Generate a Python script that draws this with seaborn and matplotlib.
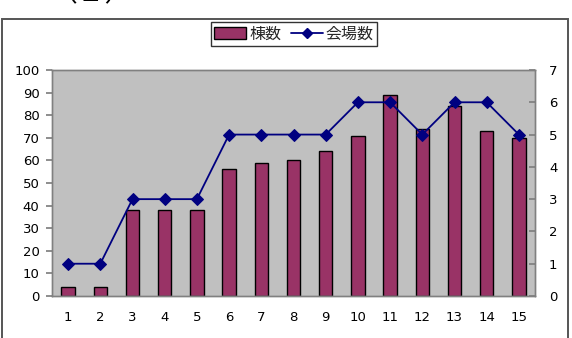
import numpy as np
import pandas as pd
import matplotlib
matplotlib.use("Agg")
import matplotlib.pyplot as plt
from matplotlib.patches import Rectangle, Patch
from matplotlib.lines import Line2D
from matplotlib.ticker import MultipleLocator, FixedLocator
import seaborn as sns

categories = [str(i) for i in range(1, 16)]
buildings = [4, 4, 38, 38, 38, 56, 59, 60, 64, 71, 89, 74, 84, 73, 70]
venues = [1, 1, 3, 3, 3, 5, 5, 5, 5, 6, 6, 5, 6, 6, 5]
bar_label = "棟数"
line_label = "会場数"

sns.set_theme(style="white")
plt.rcParams['font.family'] = ['Noto Sans CJK JP', 'DejaVu Sans']

W, H = 572, 338
fig = plt.figure(figsize=(W / 100, H / 100), dpi=100)
fig.patch.set_facecolor("white")

# outer chart frame
fig.patches.append(Rectangle((2 / W, -0.05), 566 / W, (H - 19) / H + 0.05,
                             transform=fig.transFigure, fill=False,
                             edgecolor="#555555", lw=1.4))
# cut-off title fragment at top
fig.text(50 / W, 1 - 1 / H, "（２）", fontsize=20, va="baseline", ha="left",
         color="black")

ax = fig.add_axes([52 / W, (H - 296) / H, 483 / W, 226 / H])
ax.set_facecolor("#C0C0C0")

df = pd.DataFrame({"cat": categories, "b": buildings, "v": venues})
sns.barplot(data=df, x="cat", y="b", ax=ax, color="#993366", width=0.42,
            edgecolor="black", linewidth=1.0, saturation=1)
for p in ax.patches:
    p.set_facecolor("#993366")

ax.set_xlim(-0.5, len(categories) - 0.5)
ax.set_ylim(0, 100)
ax.yaxis.set_major_locator(MultipleLocator(10))
ax.set_xlabel("")
ax.set_ylabel("")

ax2 = ax.twinx()
pos = np.arange(len(categories))
sns.lineplot(x=pos, y=df["v"], ax=ax2, color="#000080", marker="D",
             markersize=6.5, markeredgecolor="#000080", linewidth=1.3)
ax2.set_ylim(0, 7)
ax2.yaxis.set_major_locator(MultipleLocator(1))
ax2.set_xlim(-0.5, len(categories) - 0.5)
ax2.set_ylabel("")

for a in (ax, ax2):
    for s in a.spines.values():
        s.set_color("#808080")
        s.set_linewidth(1.0)

ax.tick_params(axis="x", which="major", length=0, labelsize=9.5, pad=11, colors="black")
ax.xaxis.set_minor_locator(FixedLocator(np.arange(len(categories) + 1) - 0.5))
ax.tick_params(axis="x", which="minor", direction="in", length=4, color="#808080", width=1)
ax.tick_params(axis="y", which="major", direction="out", length=4, color="#808080",
               labelsize=9.5, pad=5, left=True)
ax2.tick_params(axis="y", which="major", direction="in", length=4, color="#808080",
                labelsize=9.5, pad=10, right=True)
for lab in ax.get_xticklabels() + ax.get_yticklabels() + ax2.get_yticklabels():
    lab.set_color("black")
    lab.set_family("DejaVu Sans")

handles = [Patch(facecolor="#993366", edgecolor="black", linewidth=1.0),
           Line2D([0], [0], color="#000080", marker="D", markersize=5, lw=1.3)]
leg = fig.legend(handles, [bar_label, line_label], loc="center",
                 bbox_to_anchor=(294 / W, 1 - 34 / H), ncol=2, frameon=True,
                 fancybox=False, shadow=False, fontsize=11.5, handlelength=2.0,
                 handleheight=0.8, handletextpad=0.2, columnspacing=0.6,
                 borderpad=0.2, borderaxespad=0)
leg.get_frame().set_edgecolor("black")
leg.get_frame().set_linewidth(1.0)

fig.savefig("out.png", dpi=100)
